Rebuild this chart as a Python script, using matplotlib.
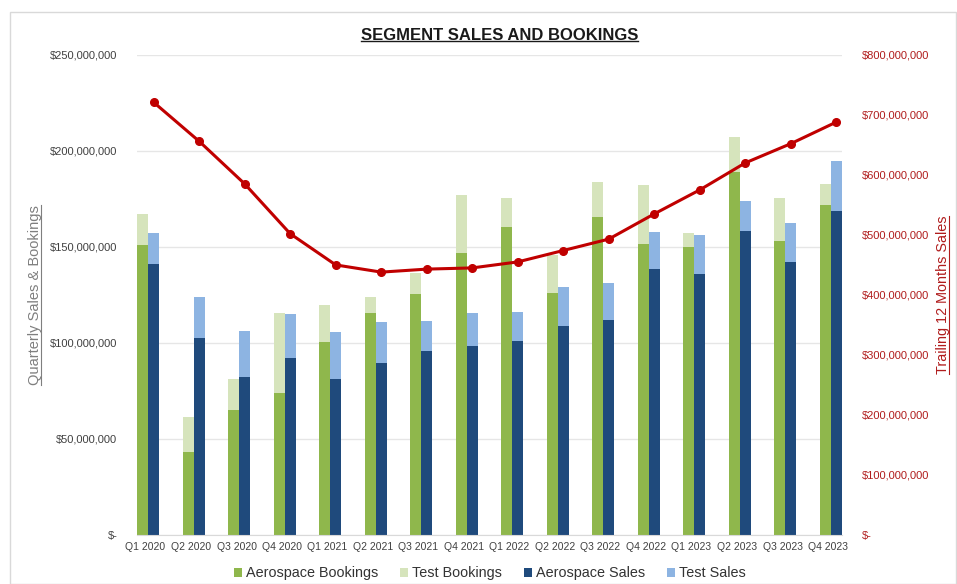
import numpy as np
import matplotlib
matplotlib.use("Agg")
import matplotlib.pyplot as plt
from matplotlib.lines import Line2D
from matplotlib.patches import Rectangle
from matplotlib.ticker import FuncFormatter, MultipleLocator

plt.rcParams['font.family'] = ['Liberation Sans', 'DejaVu Sans']

quarters = ["Q1 2020", "Q2 2020", "Q3 2020", "Q4 2020",
            "Q1 2021", "Q2 2021", "Q3 2021", "Q4 2021",
            "Q1 2022", "Q2 2022", "Q3 2022", "Q4 2022",
            "Q1 2023", "Q2 2023", "Q3 2023", "Q4 2023"]

# values in $ millions
aero_bookings = [151, 43, 65, 74, 100.5, 115.6, 125.5, 147,
                 160.4, 126, 165.6, 151.5, 150, 189, 153, 172]
test_bookings = [16, 18.5, 16, 41.6, 19.5, 8.4, 11, 30,
                 15.1, 20, 18.4, 30.5, 7.5, 18, 22.7, 11]
aero_sales = [141, 102.6, 82, 92, 81, 89.6, 95.8, 98.4,
              101, 109, 112, 138.5, 136, 158.5, 142, 168.6]
test_sales = [16, 21.4, 24, 23, 24.7, 21.4, 15.7, 17.2,
              15, 20, 19, 19.5, 20, 15.5, 20.6, 26.4]
trailing_12m = [721, 656, 585, 502, 450, 438, 443, 445,
                455, 474, 493, 535, 575, 620, 652, 688]

c_aero_b = '#8fb74c'
c_test_b = '#d6e4bc'
c_aero_s = '#1f4a7c'
c_test_s = '#8db4e2'
c_red = '#c00000'
c_tick_r = '#b01c1c'
c_gray = '#404040'

fig = plt.figure(figsize=(9.57, 5.84), dpi=100)
ax = fig.add_axes([0.143, 0.084, 0.737, 0.822])

x = np.arange(len(quarters))
w = 0.24

ax.bar(x - w / 2, aero_bookings, w, color=c_aero_b, label='Aerospace Bookings', zorder=2)
ax.bar(x - w / 2, test_bookings, w, bottom=aero_bookings, color=c_test_b, label='Test Bookings', zorder=2)
ax.bar(x + w / 2, aero_sales, w, color=c_aero_s, label='Aerospace Sales', zorder=2)
ax.bar(x + w / 2, test_sales, w, bottom=aero_sales, color=c_test_s, label='Test Sales', zorder=2)

ax.set_xlim(-0.25, 15.25)
ax.set_ylim(0, 250)
ax.yaxis.set_major_locator(MultipleLocator(50))
ax.grid(axis='y', color='#e6e6e6', linewidth=1, zorder=0)
ax.set_axisbelow(True)


def money(v, pos):
    if v == 0:
        return '$-'
    return '${:,.0f}'.format(v * 1e6)


ax.yaxis.set_major_formatter(FuncFormatter(money))
ax.set_xticks(x - 0.06)
ax.set_xticklabels(quarters)
ax.tick_params(axis='x', length=0, labelsize=7.5, colors=c_gray, pad=5)
ax.tick_params(axis='y', length=0, labelsize=8, colors=c_gray, pad=14)
for s in ['top', 'left', 'right']:
    ax.spines[s].set_visible(False)
ax.spines['bottom'].set_color('#d9d9d9')

ax2 = ax.twinx()
ax2.plot(x + w / 2, trailing_12m, color=c_red, linewidth=2.2, marker='o', markersize=5.5, zorder=5)
ax2.set_ylim(0, 800)
ax2.yaxis.set_major_locator(MultipleLocator(100))
ax2.yaxis.set_major_formatter(FuncFormatter(money))
ax2.tick_params(axis='y', length=0, labelsize=8, colors=c_tick_r, pad=14)
for s in ['top', 'left', 'right', 'bottom']:
    ax2.spines[s].set_visible(False)

handles, labels = ax.get_legend_handles_labels()
fig.legend(handles, labels, loc='center', bbox_to_anchor=(0.512, 0.018), ncol=4,
           frameon=False, fontsize=10.4, handlelength=0.55, handleheight=0.55,
           handletextpad=0.3, columnspacing=1.5, labelcolor='#333333')

# outer frame
fig.add_artist(Rectangle((10 / 957, 0.0), 946 / 957, 1 - 12 / 584,
                         transform=fig.transFigure, fill=False,
                         edgecolor='#d9d9d9', linewidth=1))

title = fig.text(0.522, 0.94, 'SEGMENT SALES AND BOOKINGS', ha='center', va='center',
                 fontsize=12, fontweight='bold', color='#1a1a1a')
ylab_l = fig.text(0.037, 0.495, 'Quarterly Sales & Bookings', rotation=90,
                  ha='center', va='center', fontsize=10.5, color='#7f7f7f')
ylab_r = fig.text(0.985, 0.495, 'Trailing 12 Months Sales', rotation=90,
                  ha='center', va='center', fontsize=10.4, color=c_tick_r)

# underlines
fig.canvas.draw()
r = fig.canvas.get_renderer()
inv = fig.transFigure.inverted()
bb = title.get_window_extent(r).transformed(inv)
fig.add_artist(Line2D([bb.x0, bb.x1], [bb.y0 + 0.002, bb.y0 + 0.002],
                      transform=fig.transFigure, color='#1a1a1a', linewidth=1))
for t, col in [(ylab_l, '#7f7f7f'), (ylab_r, c_tick_r)]:
    bb = t.get_window_extent(r).transformed(inv)
    fig.add_artist(Line2D([bb.x1 - 0.001, bb.x1 - 0.001], [bb.y0, bb.y1],
                          transform=fig.transFigure, color=col, linewidth=0.8))

fig.savefig('out.png', dpi=100)
